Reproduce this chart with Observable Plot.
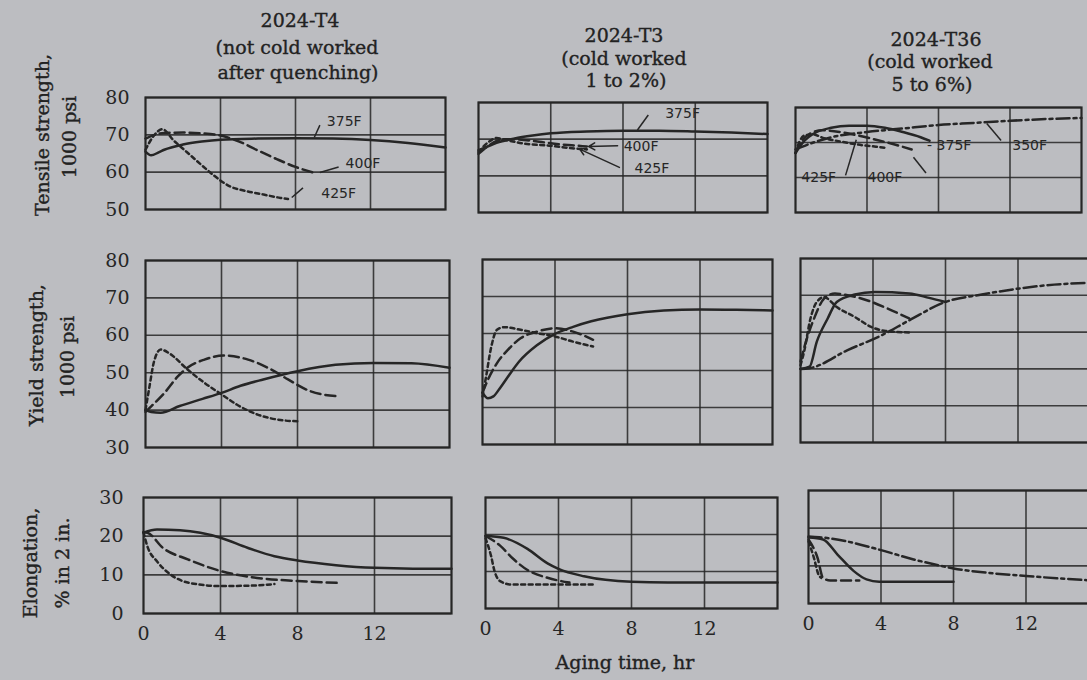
<!DOCTYPE html>
<html><head><meta charset="utf-8">
<script src="https://cdn.jsdelivr.net/npm/d3@7"></script>
<script src="https://cdn.jsdelivr.net/npm/@observablehq/plot@0.6"></script>
<style>
html,body{margin:0;padding:0;background:#bcbdc1;overflow:hidden;}
#c{position:relative;width:1087px;height:680px;overflow:hidden;background:#bcbdc1;}
.lbl{position:absolute;white-space:nowrap;font-family:"DejaVu Serif",serif;font-size:19px;line-height:1;color:#222;-webkit-text-stroke:0.35px #222;}
</style></head>
<body><div id="c"></div>
<script>
// ---------- DATA (hours, value) ----------
// Tensile strength, 1000 psi
const ts_t4_375 = [[0,65.5],[0.3,64.5],[0.7,65.3],[1,66],[2,67.4],[3,68.2],[4,68.7],[6,69],[8,69.1],[10,69],[12,68.6],[14,67.8],[16,66.6]];
const ts_t4_400 = [[0,69],[0.5,70],[1,70.5],[2,70.6],[3,70.4],[4,69.8],[5,68.2],[6,65.8],[7,63.5],[8,61.4],[9,59.8]];
const ts_t4_425 = [[0,66],[0.4,69.5],[0.9,71.5],[1.5,68.5],[2.2,65.4],[2.9,62.3],[3.6,59.3],[4.5,56.2],[5.4,54.9],[6.3,54],[7.2,53.1],[7.6,52.8]];
const ts_t3_375 = [[0,67],[0.5,68],[1,69],[2,70.2],[3,71],[4,71.6],[6,72.1],[8,72.3],[10,72.3],[12,72.1],[14,71.8],[16,71.4]];
const ts_t3_400 = [[0,66],[0.5,68],[1,69.5],[1.5,70],[2.5,69.8],[3.5,69.2],[4.5,68.6],[5.5,68.2],[6,68]];
const ts_t3_425 = [[0,66.5],[0.5,69],[1,70.3],[1.5,69.8],[2.5,68.8],[4,68.2],[5,67.6],[6,67.2]];
const ts_t36_350 = [[0,68],[1,70],[2,71.5],[4,73],[6,74],[8,75],[10,75.6],[12,76.2],[14,76.7],[16,77]];
const ts_t36_375 = [[0,67],[0.5,70.5],[1,72.5],[2,74.2],[3,74.8],[4,74.8],[5,74.2],[6,73],[7,71.5],[7.5,70.5]];
const ts_t36_400 = [[0,67],[0.3,70],[0.8,72.5],[1.5,73.5],[2.5,73],[3.5,72],[4.5,70.8],[5.5,69.5],[6.5,68]];
const ts_t36_425 = [[0,67],[0.2,70],[0.5,72],[1,72.3],[1.5,71.4],[2.5,70.3],[3.5,69.4],[4.5,68.8],[5,68.5]];
// Yield strength, 1000 psi
const ys_t4_375 = [[0,40],[0.3,39.5],[0.8,39.3],[1.8,41.1],[3,43],[4,44.6],[5,46.5],[6.2,48.2],[8,50.4],[10,52.1],[12,52.6],[14,52.5],[16,51.3]];
const ys_t4_400 = [[0,39.5],[0.3,41],[1,44.6],[1.7,49],[2.2,51.3],[3.1,53.5],[4.1,54.6],[5.4,53.5],[6.6,50.9],[7.5,48.2],[8.7,45],[10.1,43.7]];
const ys_t4_425 = [[0,40],[0.2,46],[0.45,53],[0.8,56.2],[1.3,55],[2.2,50.9],[3.1,47.3],[4,44.2],[4.8,41.5],[5.9,38.8],[6.9,37.5],[8,37]];
const ys_t3_375 = [[0,44],[0.3,42.5],[0.6,43],[1,45.5],[1.5,49],[2,52.3],[3,56.8],[4,59.9],[5,61.8],[6,63.3],[8,65.2],[10,66.2],[12,66.5],[14,66.4],[16,66.2]];
const ys_t3_400 = [[0,44],[0.3,47.5],[0.8,52],[1.4,55.6],[2.1,58.7],[3,60.5],[4,61.4],[5,60.5],[6.1,58.3]];
const ys_t3_425 = [[0,43],[0.2,48.4],[0.45,55.6],[0.8,61],[1.2,61.7],[2.1,61],[3,60.1],[4,59.2],[5,57.8],[6.1,56.5]];
const ys_t36_350 = [[0,50],[0.5,50.2],[2.6,55.1],[4.5,59.2],[6,63.2],[8,68.2],[10,70.2],[12,71.8],[14,72.9],[16,73.4]];
const ys_t36_375 = [[0,50],[0.5,50.6],[0.9,57.4],[1.5,63.7],[2,68.2],[3,70.2],[4.1,70.9],[6,70.5],[7.1,69.3],[8,68.2]];
const ys_t36_400 = [[0,52],[0.3,57.4],[0.75,63.7],[1.3,69.1],[1.9,70.5],[2.6,70],[3.7,68.6],[4.8,66.4],[6,63.7]];
const ys_t36_425 = [[0,51],[0.2,54.7],[0.55,63.7],[0.9,68.2],[1.3,69.5],[2,66.8],[3,64.1],[3.9,61.4],[4.7,60.3],[6,59.9]];
// Elongation, % in 2 in.
const el_t4_375 = [[0,20.9],[0.7,21.7],[1.9,21.5],[4,19.6],[5.4,17],[6.8,14.8],[8,13.7],[10,12.5],[12,11.8],[14,11.6],[16,11.6]];
const el_t4_400 = [[0,21],[0.2,20.9],[1,17],[2.3,14],[4,11],[5.9,9.2],[8,8.4],[10.2,7.9]];
const el_t4_425 = [[0,21],[0.2,17.4],[0.7,13.5],[1.4,10.1],[2.4,7.9],[4,7.1],[5.5,7.2],[6.8,7.6]];
const el_t3_375 = [[0,19.6],[1,19.1],[2.3,16.1],[3.4,12.2],[4,10.7],[5.4,8.7],[8,7.2],[10,7],[16,7]];
const el_t3_400 = [[0,19.6],[0.8,17],[1.5,13.5],[2.3,10.4],[3.4,8.3],[4.6,7]];
const el_t3_425 = [[0,19],[0.3,14.3],[0.5,10],[0.8,7.4],[1.4,6.5],[6,6.5]];
const el_t36_350 = [[0,17.8],[0.6,17.6],[2.1,16.5],[3.9,14.3],[5.8,11.7],[7.4,9.9],[8,9.3],[9.8,8.2],[12,7.3],[13.7,6.7],[16,6]];
const el_t36_375 = [[0,17.5],[0.8,17],[1.6,13],[2.5,8.6],[3.2,6.4],[3.9,5.8],[8,5.8]];
const el_t36_400 = [[0,17],[0.5,12.1],[0.8,6.8],[1.2,6.1],[2.8,6.1]];
const el_t36_425 = [[0,16.5],[0.3,12.1],[0.55,7.7],[0.7,6.8]];

// Curve labels (temperature, hours, value) and leader lines (h1,v1,h2,v2)
const lab_t4 = [["375F",10.6,73.6],["400F",11.6,62.4],["425F",10.3,54.3]];
const lead_t4 = [[9.3,72.6,9.0,69.3],[10.3,61.4,9.3,59.9],[8.4,55.8,7.8,53.2]];
const lab_t3 = [["375F",11.3,77],["400F",9.0,68.1],["425F",9.6,62]];
const lead_t3 = [[9.4,76.6,8.8,72.5]];
const arrow_t3 = [[7.7,68.2,6.1,68.0],[7.8,62.3,5.6,67.3]];
const lab_t36 = [["- 375F",8.6,69.2],["350F",13.1,69.2],["425F",1.3,60.0],["400F",5.0,60.0]];
const lead_t36 = [[11.5,70.6,10.7,75.4],[2.8,60.6,3.4,70.8],[6.6,65.8,7.3,61.3]];

// Text
const colTitles = [["2024-T4","(not cold worked","after quenching)"],["2024-T3","(cold worked","1 to 2%)"],["2024-T36","(cold worked","5 to 6%)"]];
const rowTitles = [["Tensile strength,","1000 psi"],["Yield strength,","1000 psi"],["Elongation,","% in 2 in."]];
const xTitle = "Aging time, hr";
const xTickVals = [0,4,8,12];
const xGridVals = [4,8,12];
const yTickVals = [[50,60,70,80],[30,40,50,60,70,80],[0,10,20,30]];
const yDomains = [[50,80],[30,80],[0,30]];

// ---------- STYLE / LAYOUT ----------
const ink = "#262626";
const dashes = {"350F":"13,4,3,4","375F":null,"400F":"10,5","425F":"4,3.5"};
const boxes = [
  [{x0:145,x1:445,y0:97,y1:209},{x0:478,x1:767,y0:102,y1:212},{x0:795,x1:1081,y0:107,y1:212}],
  [{x0:145,x1:449,y0:260,y1:447},{x0:482,x1:772,y0:259,y1:444},{x0:800,x1:1090,y0:258,y1:442}],
  [{x0:143,x1:451,y0:497,y1:613},{x0:485,x1:777,y0:497,y1:608},{x0:808,x1:1098,y0:490,y1:603}]
];
const titlePos = [[[300,20],[297,47],[298,72]],[[624,35],[624,58],[626,80]],[[936,39],[930,61],[932,84]]];
const rowTitlePos = [[[42,135],[69,137]],[[36,355],[67,357]],[[30,563],[62,563]]];
const xTitlePos = [625,662];

const panels = [
  {row:0,col:0,curves:{"375F":ts_t4_375,"400F":ts_t4_400,"425F":ts_t4_425},labels:lab_t4,leads:lead_t4},
  {row:0,col:1,curves:{"375F":ts_t3_375,"400F":ts_t3_400,"425F":ts_t3_425},labels:lab_t3,leads:lead_t3,arrows:arrow_t3},
  {row:0,col:2,curves:{"350F":ts_t36_350,"375F":ts_t36_375,"400F":ts_t36_400,"425F":ts_t36_425},labels:lab_t36,leads:lead_t36},
  {row:1,col:0,curves:{"375F":ys_t4_375,"400F":ys_t4_400,"425F":ys_t4_425}},
  {row:1,col:1,curves:{"375F":ys_t3_375,"400F":ys_t3_400,"425F":ys_t3_425}},
  {row:1,col:2,curves:{"350F":ys_t36_350,"375F":ys_t36_375,"400F":ys_t36_400,"425F":ys_t36_425}},
  {row:2,col:0,curves:{"375F":el_t4_375,"400F":el_t4_400,"425F":el_t4_425}},
  {row:2,col:1,curves:{"375F":el_t3_375,"400F":el_t3_400,"425F":el_t3_425}},
  {row:2,col:2,curves:{"350F":el_t36_350,"375F":el_t36_375,"400F":el_t36_400,"425F":el_t36_425}}
];

const root = document.getElementById("c");

function drawPanel(p) {
  const b = boxes[p.row][p.col];
  const ml = p.col === 0 ? 64 : 4, mr = 4, mt = 4, mb = p.row === 2 ? 40 : 4;
  const marks = [
    Plot.gridY(yTickVals[p.row], {stroke: ink, strokeOpacity: 0.85, strokeWidth: 1.6}),
    Plot.gridX(xGridVals, {stroke: ink, strokeOpacity: 0.85, strokeWidth: 1.6})
  ];
  for (const [temp, pts] of Object.entries(p.curves)) {
    const o = {x: d => d[0], y: d => d[1], curve: "monotone-x", stroke: ink, strokeWidth: 2.5};
    if (dashes[temp]) o.strokeDasharray = dashes[temp];
    marks.push(Plot.line(pts, o));
  }
  if (p.leads) marks.push(Plot.link(p.leads, {x1: d => d[0], y1: d => d[1], x2: d => d[2], y2: d => d[3], stroke: ink, strokeWidth: 1.5}));
  if (p.arrows) marks.push(Plot.arrow(p.arrows, {x1: d => d[0], y1: d => d[1], x2: d => d[2], y2: d => d[3], stroke: ink, strokeWidth: 1.5, headLength: 7}));
  if (p.labels) marks.push(Plot.text(p.labels, {x: d => d[1], y: d => d[2], text: d => d[0], fill: ink, fontSize: 14, fontFamily: "DejaVu Sans", textAnchor: "middle"}));
  marks.push(Plot.frame({stroke: ink, strokeWidth: 2.2}));
  if (p.col === 0) marks.push(Plot.axisY(yTickVals[p.row], {tickSize: 0, tickPadding: p.row === 2 ? 20 : 16, label: null, fontSize: 19, fontFamily: "DejaVu Serif", fill: ink, stroke: ink, strokeWidth: 0.35}));
  if (p.row === 2) marks.push(Plot.axisX(xTickVals, {tickSize: 0, tickPadding: 13, label: null, fontSize: 19, fontFamily: "DejaVu Serif", fill: ink, stroke: ink, strokeWidth: 0.35}));
  const svg = Plot.plot({
    width: b.x1 - b.x0 + ml + mr,
    height: b.y1 - b.y0 + mt + mb,
    marginLeft: ml, marginRight: mr, marginTop: mt, marginBottom: mb,
    x: {domain: [0, 16], axis: p.row === 2 ? undefined : null},
    y: {domain: yDomains[p.row], axis: p.col === 0 ? undefined : null},
    style: {background: "transparent", fontFamily: "DejaVu Serif", fontSize: "19px", color: ink, overflow: "visible", maxWidth: "none"},
    marks
  });
  svg.style.position = "absolute";
  svg.style.left = (b.x0 - ml) + "px";
  svg.style.top = (b.y0 - mt) + "px";
  root.appendChild(svg);
}
panels.forEach(drawPanel);

function addText(txt, x, y, rotate) {
  const d = document.createElement("div");
  d.className = "lbl";
  d.textContent = txt;
  d.style.left = x + "px";
  d.style.top = y + "px";
  d.style.transform = "translate(-50%,-50%)" + (rotate ? " rotate(-90deg)" : "");
  root.appendChild(d);
}
colTitles.forEach((lines, c) => lines.forEach((t, i) => addText(t, titlePos[c][i][0], titlePos[c][i][1], false)));
rowTitles.forEach((lines, r) => lines.forEach((t, i) => addText(t, rowTitlePos[r][i][0], rowTitlePos[r][i][1], true)));
addText(xTitle, xTitlePos[0], xTitlePos[1], false);
</script>
</body></html>
